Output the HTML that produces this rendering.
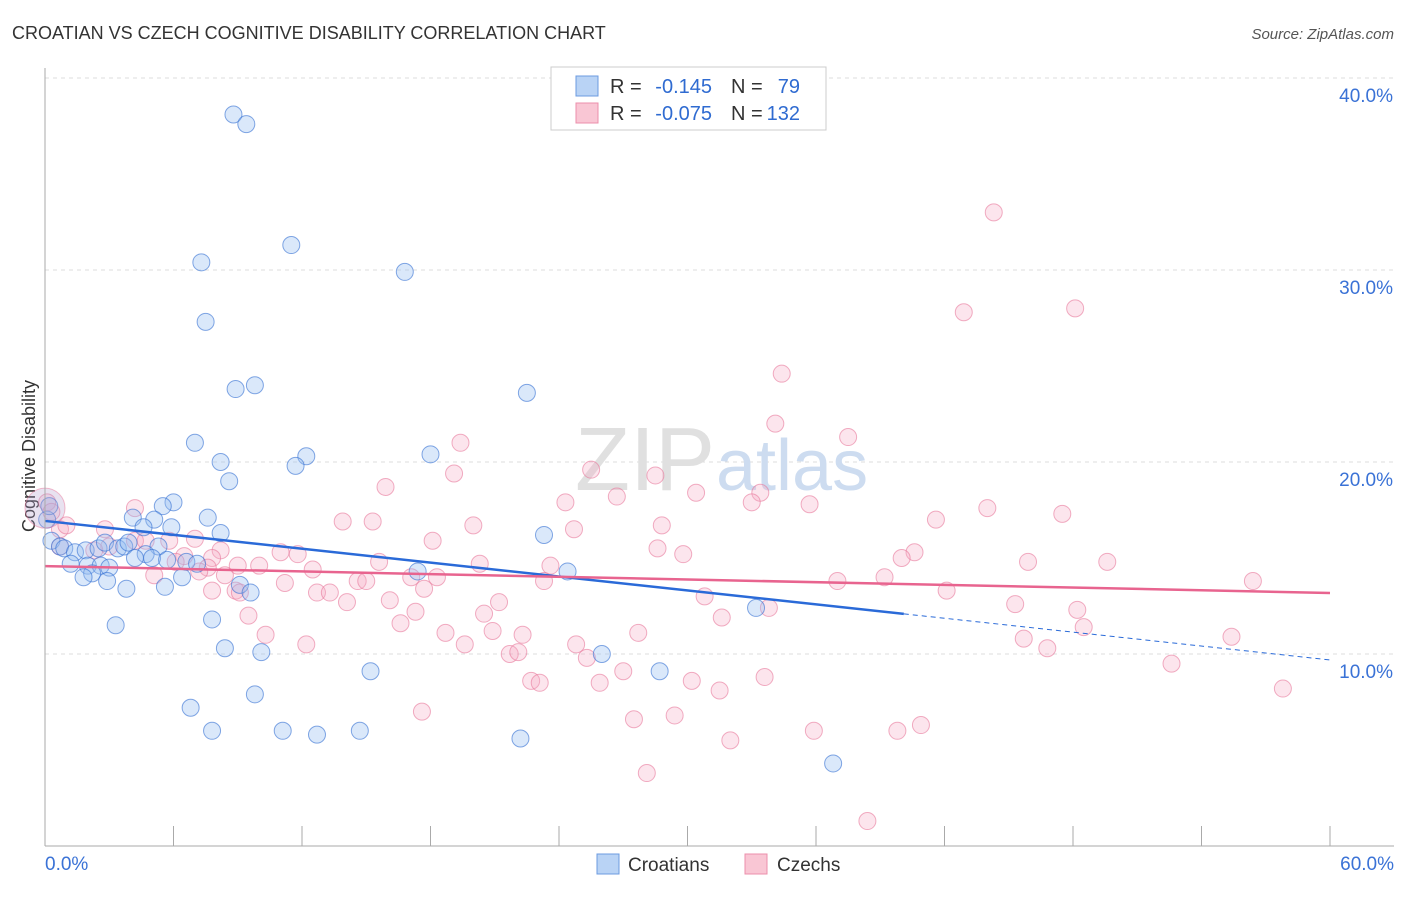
<!DOCTYPE html>
<html><head><meta charset="utf-8"><style>
body{margin:0;background:#fff;font-family:"Liberation Sans",sans-serif;}
svg text{font-family:"Liberation Sans",sans-serif;}
</style></head><body>
<svg id="chart" width="1406" height="892">
<text x="12" y="39" font-size="18" fill="#333">CROATIAN VS CZECH COGNITIVE DISABILITY CORRELATION CHART</text>
<text x="1394" y="39" font-size="15" fill="#555" font-style="italic" text-anchor="end">Source: ZipAtlas.com</text>
<text x="35" y="456" font-size="18" fill="#333" transform="rotate(-90 35 456)" text-anchor="middle">Cognitive Disability</text>
<g id="grid"></g>
<text x="715" y="490" font-size="90" fill="#e0e0e0" text-anchor="end" font-family="Liberation Serif">ZIP</text>
<text x="716" y="490" font-size="72" fill="#cddcf0">atlas</text>
<g id="pts"></g>
<g id="lines"></g>
<g id="axes"></g>
<g>
<rect x="551" y="67" width="275" height="63" fill="#fff" stroke="#ccc"/>
<rect x="576" y="76" width="22" height="20" fill="#b9d3f5" stroke="#6c9be0"/>
<rect x="576" y="103" width="22" height="20" fill="#f9c6d4" stroke="#ec8fab"/>
<text x="610" y="93" font-size="20" fill="#333">R =</text>
<text x="712" y="93" font-size="20" fill="#2f6bd1" text-anchor="end">-0.145</text>
<text x="731" y="93" font-size="20" fill="#333">N =</text>
<text x="800" y="93" font-size="20" fill="#2f6bd1" text-anchor="end">79</text>
<text x="610" y="120" font-size="20" fill="#333">R =</text>
<text x="712" y="120" font-size="20" fill="#2f6bd1" text-anchor="end">-0.075</text>
<text x="731" y="120" font-size="20" fill="#333">N =</text>
<text x="800" y="120" font-size="20" fill="#2f6bd1" text-anchor="end">132</text>
</g>
<g>
<rect x="597" y="854" width="22" height="20" fill="#b9d3f5" stroke="#6c9be0"/>
<text x="628" y="871" font-size="19" fill="#333">Croatians</text>
<rect x="745" y="854" width="22" height="20" fill="#f9c6d4" stroke="#ec8fab"/>
<text x="777" y="871" font-size="19" fill="#333">Czechs</text>
</g>
</svg>
<script>
const yTicks=[10,20,30,40];
const xTickLabels=["0.0%","60.0%"];
const croX=[8.8,9.4,11.5,7.3,16.8,7.5,9.8,8.9,22.5,7.0,18.0,12.2,11.7,8.2,8.6,6.0,5.5,7.6,4.1,5.1,23.3,8.2,4.6,5.9,0.1,0.3,0.7,0.9,1.4,1.9,2.5,2.8,3.4,3.7,3.9,5.3,4.7,4.2,5.0,5.7,6.6,7.1,1.2,2.0,2.6,3.0,2.2,1.8,6.4,2.9,3.8,5.6,9.1,9.6,24.4,17.4,33.2,7.8,3.3,8.4,10.1,26.0,28.7,15.2,9.8,6.8,7.8,11.1,12.7,14.7,22.2,36.8,0.2];
const croY=[38.1,37.6,31.3,30.4,29.9,27.3,24.0,23.8,23.6,21.0,20.4,20.3,19.8,20.0,19.0,17.9,17.7,17.1,17.1,17.0,16.2,16.3,16.6,16.6,17.0,15.9,15.6,15.5,15.3,15.4,15.5,15.8,15.5,15.6,15.8,15.6,15.2,15.0,15.0,14.9,14.8,14.7,14.7,14.6,14.6,14.5,14.2,14.0,14.0,13.8,13.4,13.5,13.6,13.2,14.3,14.3,12.4,11.8,11.5,10.3,10.1,10.0,9.1,9.1,7.9,7.2,6.0,6.0,5.8,6.0,5.6,4.3,17.7];
const czeX=[44.3,42.9,48.1,34.4,34.1,37.5,19.4,25.5,19.1,15.9,28.5,26.7,30.4,33.4,24.3,35.7,33.0,44.0,47.5,41.6,13.9,15.3,20.0,24.7,28.8,18.1,4.2,0.1,0.3,0.7,1.0,2.8,4.2,4.7,5.8,7.0,8.2,28.6,29.8,40.6,40.0,49.6,45.9,11.0,11.8,15.6,20.3,23.6,6.5,7.8,7.6,9.0,10.0,12.5,5.1,7.2,8.4,8.9,11.2,12.7,13.3,14.6,15.0,17.1,18.3,23.3,37.0,39.2,56.4,9.1,7.8,14.1,16.1,21.2,17.7,42.1,45.3,48.2,30.8,9.5,17.3,20.5,16.6,18.7,20.9,10.3,22.3,33.8,31.6,27.7,48.5,55.4,12.2,19.6,24.8,21.7,22.1,45.7,46.8,25.3,27.0,52.6,22.7,23.1,25.9,30.2,31.5,33.6,57.8,17.6,27.5,29.4,35.9,39.8,40.9,32.0,28.1,38.4,3.0,2.3,6.1,0.7];
const czeY=[33.0,27.8,28.0,24.6,22.0,21.3,21.0,19.6,19.4,18.7,19.3,18.2,18.4,18.4,17.9,17.8,17.9,17.6,17.3,17.0,16.9,16.9,16.7,16.5,16.7,15.9,17.6,17.9,17.4,16.5,16.7,16.5,15.9,15.9,15.9,16.0,15.4,15.5,15.2,15.3,15.0,14.8,14.8,15.3,15.2,14.8,14.7,14.6,15.1,15.0,14.5,14.6,14.6,14.4,14.1,14.3,14.1,13.3,13.7,13.2,13.2,13.8,13.8,14.0,14.0,13.8,13.8,14.0,13.8,13.2,13.3,12.7,12.8,12.7,13.4,13.3,12.6,12.3,13.0,12.0,12.2,12.1,11.6,11.1,11.2,11.0,11.0,12.4,11.9,11.1,11.4,10.9,10.5,10.5,10.5,10.0,10.1,10.8,10.3,9.8,9.1,9.5,8.6,8.5,8.5,8.6,8.1,8.8,8.2,7.0,6.6,6.8,6.0,6.0,6.3,5.5,3.8,1.3,15.6,15.4,14.8,15.6];
const blueLine=[16.93,9.69], blueSolidEnd=40.1;
const pinkLine=[14.58,13.18];
const NS="http://www.w3.org/2000/svg";
const X=v=>45+v/60*1285, Y=v=>846-v*19.2;
function el(t,a,p){const e=document.createElementNS(NS,t);for(const k in a)e.setAttribute(k,a[k]);document.getElementById(p).appendChild(e);return e;}
yTicks.forEach(t=>{
 const g=el('line',{x1:45,x2:1394,y1:Y(t),y2:Y(t),stroke:'#ddd','stroke-dasharray':'4 4'},'grid');
 
 
 const tx=el('text',{x:1393,y:Y(t)+24,'font-size':19,fill:'#3a72d6','text-anchor':'end'},'axes');
 tx.textContent=t.toFixed(1)+'%';
 
 
});
el('line',{x1:45,x2:45,y1:68,y2:846,stroke:'#aaa'},'axes');
el('line',{x1:45,x2:1394,y1:846,y2:846,stroke:'#aaa'},'axes');
for(let i=0;i<=10;i++){el('line',{x1:X(i*6),x2:X(i*6),y1:826,y2:846,stroke:'#aaa'},'axes');}
[[0,45,'start'],[1,1394,'end']].forEach(([i,x,a])=>{
 const t=el('text',{x:x,y:870,'font-size':19,fill:'#3a72d6','text-anchor':a},'axes');
 t.textContent=xTickLabels[i];
 
 
});
czeX.forEach((x,i)=>{
 const c=el('circle',{cx:X(x),cy:Y(czeY[i]),r:8.5,fill:'rgba(246,170,195,0.3)',stroke:'rgba(232,120,155,0.6)'},'pts');
 
 
});
croX.forEach((x,i)=>{
 const c=el('circle',{cx:X(x),cy:Y(croY[i]),r:8.5,fill:'rgba(150,190,240,0.35)',stroke:'rgba(50,110,210,0.6)'},'pts');
 
 
});
const bb=el('circle',{cx:X(0),cy:Y(17.6),r:20,fill:'rgba(180,160,205,0.3)',stroke:'rgba(232,120,155,0.5)'},'pts');


const bY=x=>blueLine[0]+(blueLine[1]-blueLine[0])*x/60;
const b1=el('line',{x1:X(0),y1:Y(bY(0)),x2:X(blueSolidEnd),y2:Y(bY(blueSolidEnd)),stroke:'#2a6ad8','stroke-width':2.5},'lines');


const b2=el('line',{x1:X(blueSolidEnd),y1:Y(bY(blueSolidEnd)),x2:X(60),y2:Y(bY(60)),stroke:'#2a6ad8','stroke-width':1,'stroke-dasharray':'5 4'},'lines');


const p1=el('line',{x1:X(0),y1:Y(pinkLine[0]),x2:X(60),y2:Y(pinkLine[1]),stroke:'#e8648f','stroke-width':2.5},'lines');


</script>
</body></html>
